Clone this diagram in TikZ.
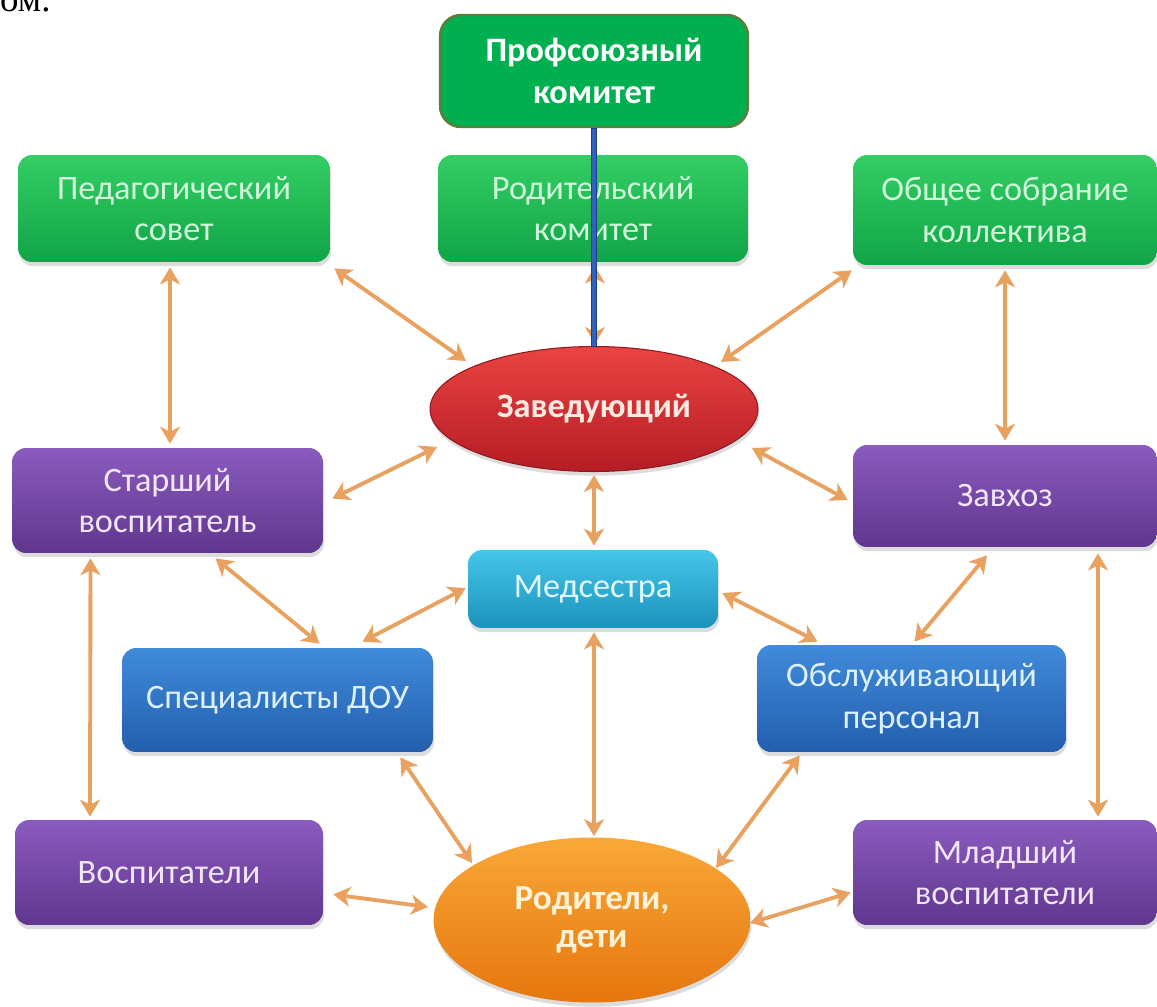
\documentclass[tikz,border=0pt]{standalone}
\usepackage{fontspec}
\setmainfont{Carlito}
\newfontfamily\fragfont{Liberation Serif}
\usetikzlibrary{shapes.geometric,arrows.meta,calc,shadows}

\definecolor{grT}{HTML}{34CE64}
\definecolor{grB}{HTML}{10A447}
\definecolor{grTx}{HTML}{D2F6DA}
\definecolor{prof}{HTML}{00B050}
\definecolor{profB}{HTML}{5E7D3A}
\definecolor{puT}{HTML}{8A5BBE}
\definecolor{puB}{HTML}{60368E}
\definecolor{puTx}{HTML}{F1E6F8}
\definecolor{blT}{HTML}{408BDA}
\definecolor{blB}{HTML}{235EAE}
\definecolor{blTx}{HTML}{DDF0FF}
\definecolor{cyT}{HTML}{45C6EA}
\definecolor{cyB}{HTML}{1C92BC}
\definecolor{cyTx}{HTML}{E2F7FF}
\definecolor{reT}{HTML}{EA4343}
\definecolor{reB}{HTML}{B51C24}
\definecolor{reD}{HTML}{8C1A1E}
\definecolor{reTx}{HTML}{FFEAE2}
\definecolor{orT}{HTML}{F9A838}
\definecolor{orB}{HTML}{E6760E}
\definecolor{orTx}{HTML}{FFF2D6}
\definecolor{arr}{HTML}{E9A15F}
\definecolor{lnB}{HTML}{1E3F88}
\definecolor{lnF}{HTML}{3362BE}

\tikzset{
  txt/.style={font=\fontsize{19.5}{23.5}\selectfont},
  bold/.style={font=\bfseries\fontsize{19.5}{24}\selectfont},
  card/.style={rectangle, rounded corners=0.28cm, align=center, inner sep=0pt,
     shading=axis, shading angle=0, txt,
     drop shadow={opacity=0.28, shadow xshift=0.6pt, shadow yshift=-2.4pt}},
  greenbox/.style={card, top color=grT, bottom color=grB, text=grTx},
  purplebox/.style={card, top color=puT, bottom color=puB, text=puTx},
  bluebox/.style={card, top color=blT, bottom color=blB, text=blTx},
  cyanbox/.style={card, top color=cyT, bottom color=cyB, text=cyTx},
  profbox/.style={rectangle, rounded corners=0.42cm, align=center, inner sep=0pt,
     fill=prof, draw=profB, line width=1.4pt, text=white, bold},
  oval/.style={ellipse, align=center, inner sep=0pt, bold,
     drop shadow={opacity=0.28, shadow xshift=0.6pt, shadow yshift=-2.4pt}},
  link/.style={draw=arr, line width=2.2pt,
     {Stealth[length=0.34cm,width=0.4cm,inset=0.1cm]}-{Stealth[length=0.34cm,width=0.4cm,inset=0.1cm]}},
}

\begin{document}
\begin{tikzpicture}[x=0.02cm, y=-0.02cm]
\useasboundingbox (0,0) rectangle (1157,1007);

\node[anchor=base west, font=\fragfont\fontsize{21}{21}\selectfont] (frag) at (-6,12) {ом.};

% top row
\node[greenbox, minimum width=6.24cm, minimum height=2.14cm] (ped) at (174,208.5) {Педагогический\\совет};
\node[greenbox, minimum width=6.2cm, minimum height=2.14cm] (rod) at (593,208.5) {Родительский\\комитет};
\node[greenbox, minimum width=6.08cm, minimum height=2.2cm] (obsh) at (1005,210) {Общее собрание\\коллектива};

\node[profbox, minimum width=6.16cm, minimum height=2.24cm] (prof) at (594,71) {Профсоюзный\\комитет};

% central
\node[oval, top color=reT, bottom color=reB, draw=reD, line width=0.6pt, text=reTx,
      minimum width=6.56cm, minimum height=2.5cm] (zav) at (594,409) {Заведующий};

\node[purplebox, minimum width=6.22cm, minimum height=2.1cm] (star) at (167.5,500.5) {Старший\\воспитатель};
\node[purplebox, minimum width=6.08cm, minimum height=2.04cm] (zavhoz) at (1005,496) {Завхоз};

\node[cyanbox, minimum width=5.0cm, minimum height=1.56cm] (med) at (593,589) {Медсестра};

\node[bluebox, minimum width=6.22cm, minimum height=2.08cm] (spec) at (277.5,700) {Специалисты ДОУ};
\node[bluebox, minimum width=6.18cm, minimum height=2.14cm] (obsl) at (911.5,698.5) {Обслуживающий\\персонал};

\node[purplebox, minimum width=6.16cm, minimum height=2.1cm] (vosp) at (169,872.5) {Воспитатели};
\node[purplebox, minimum width=6.08cm, minimum height=2.1cm] (mlad) at (1005,872.5) {Младший\\воспитатели};

\node[oval, top color=orT, bottom color=orB, text=orTx,
      minimum width=6.34cm, minimum height=3.3cm, font=\bfseries\fontsize{20}{22}\selectfont] (rod2) at (592,920) {Родители,\\дети};

% connectors
\draw[link] ($(ped.south)+(-4,5)$) -- ($(star.north)+(2.5,-4)$);
\draw[link] ($(ped.south east)+(4,6)$) -- ($(zav.center)+(-128,-48)$);
\draw[link] ($(rod.south)+(2,4)$) -- ($(zav.north)+(1,-2)$);
\draw[link] ($(obsh.south west)+(-1,5)$) -- ($(zav.center)+(127,-47)$);
\draw[link] ($(obsh.south)+(0,5)$) -- ($(zavhoz.north)+(0,-4)$);
\draw[link] ($(zav.center)+(-157,38)$) -- ($(star.east)+(9,-2)$);
\draw[link] ($(zav.center)+(158,39)$) -- ($(zavhoz.west)+(-5,4)$);
\draw[link] ($(zav.south)+(0,3)$) -- ($(med.north)+(1,-4)$);
\draw[link] ($(star.south)+(48,5)$) -- ($(spec.north)+(42,-4)$);
\draw[link] ($(med.west)+(-2,-1)$) -- ($(spec.north)+(85,-6)$);
\draw[link] ($(med.east)+(4,4)$) -- ($(obsl.north)+(-94,-3)$);
\draw[link] ($(zavhoz.south)+(-18,8)$) -- ($(obsl.north)+(3,-3)$);
\draw[link] ($(star.south)+(-77,5)$) -- ($(vosp.north)+(-79,-3)$);
\draw[link] ($(zavhoz.south)+(93,6)$) -- ($(mlad.north)+(93,-3)$);
\draw[link] ($(med.south)+(1,4)$) -- ($(rod2.north)+(2,-1)$);
\draw[link] ($(spec.south east)+(-33,5)$) -- ($(rod2.center)+(-120,-57)$);
\draw[link] ($(obsl.south west)+(43,3)$) -- ($(rod2.center)+(124,-52)$);
\draw[link] ($(vosp.east)+(10,22)$) -- ($(rod2.center)+(-164,-13)$);
\draw[link] ($(mlad.west)+(-2,20)$) -- ($(rod2.center)+(158,3)$);

% blue line from trade union committee
\draw[draw=lnB, line width=3.6pt] (prof.south) -- ($(zav.north)+(0,1)$);
\draw[draw=lnF, line width=2.2pt] ($(prof.south)+(0,1)$) -- ($(zav.north)+(0,0)$);
\end{tikzpicture}
\end{document}
